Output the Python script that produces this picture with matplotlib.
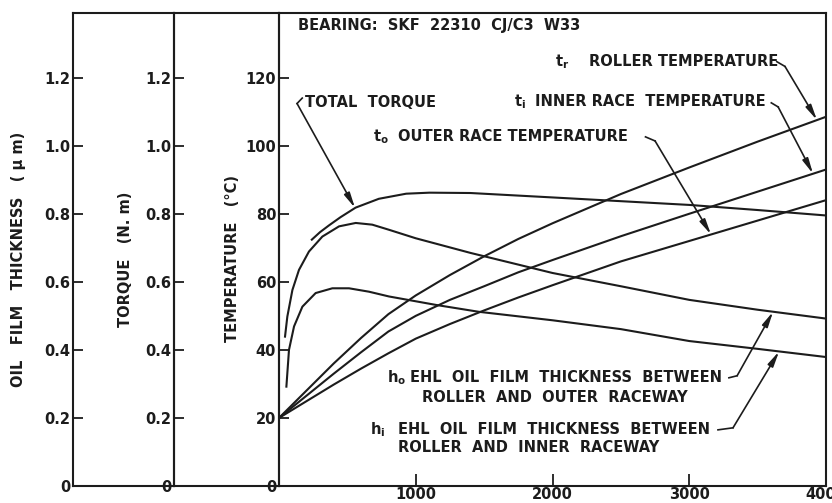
import numpy as np
import matplotlib
matplotlib.use('Agg')
import matplotlib.pyplot as plt
from matplotlib import font_manager

# shaft speed values (rpm) and the measured/calculated curves
speed_temp = [0, 200, 400, 600, 800, 1000, 1250, 1500, 1750, 2000, 2500, 3000, 3500, 4000]
roller_temp = [20, 28, 36, 43.5, 50.5, 56, 62, 67.5, 72.6, 77.2, 85.8, 93.6, 101.2, 108.5]
inner_temp = [20, 26.5, 33, 39.3, 45.4, 50, 54.7, 58.7, 62.8, 66.4, 73.4, 80, 86.5, 93]
outer_temp = [20, 24.9, 29.8, 34.5, 39, 43.3, 47.6, 51.6, 55.4, 59, 66, 72, 78, 84]

speed_torque = [240, 300, 366, 450, 560, 730, 930, 1100, 1400, 2000, 2500, 3000, 3500, 4000]
total_torque = [0.724, 0.746, 0.766, 0.790, 0.818, 0.844, 0.859, 0.862, 0.861,
                0.848, 0.837, 0.826, 0.811, 0.795]

speed_ho = [44, 61, 98, 146, 219, 317, 439, 561, 682, 804, 1000, 1400, 2000,
            2500, 3000, 3500, 4000]
film_outer = [0.439, 0.498, 0.576, 0.635, 0.689, 0.733, 0.763, 0.773, 0.768,
              0.753, 0.728, 0.685, 0.626, 0.587, 0.547, 0.518, 0.492]

speed_hi = [54, 73, 110, 171, 268, 390, 512, 658, 804, 1150, 1460, 2000, 2500,
            3000, 3500, 4000]
film_inner = [0.292, 0.400, 0.469, 0.527, 0.567, 0.581, 0.581, 0.571, 0.557,
              0.532, 0.512, 0.487, 0.461, 0.426, 0.403, 0.379]

thickness_ticks = [0, 0.2, 0.4, 0.6, 0.8, 1.0, 1.2]
thickness_labels = ['0', '0.2', '0.4', '0.6', '0.8', '1.0', '1.2']
temp_ticks = [0, 20, 40, 60, 80, 100, 120]
speed_ticks = [1000, 2000, 3000, 4000]

# pick a narrow bold face if one is around
available = {f.name for f in font_manager.fontManager.ttflist}
family = 'DejaVu Sans'
for name in ['Liberation Sans Narrow', 'DejaVu Sans Condensed']:
    if name in available:
        family = name
        break
plt.rcParams['font.family'] = [family, 'DejaVu Sans']
plt.rcParams['font.weight'] = 'bold'
plt.rcParams['axes.labelweight'] = 'bold'
plt.rcParams['mathtext.fontset'] = 'dejavusans'

INK = '#1c1c1c'
LW = 1.5
FS = 10.5

fig = plt.figure(figsize=(8.32, 5.03), dpi=100)
bottom, height = 17 / 503, 473 / 503
ax = fig.add_axes([279 / 832, bottom, 547 / 832, height])
ax_q = fig.add_axes([174 / 832, bottom, 105 / 832, height])
ax_h = fig.add_axes([73 / 832, bottom, 101 / 832, height])

for a in (ax, ax_q, ax_h):
    a.patch.set_visible(False)
    for sp in a.spines.values():
        sp.set_linewidth(LW)
        sp.set_color(INK)
    a.tick_params(axis='y', direction='in', length=7, width=1.3, colors=INK,
                  labelsize=FS, pad=2)

# the two scale-only boxes on the left
for a, label, xpos in ((ax_q, 'TORQUE   (N. m)', -0.39),
                       (ax_h, 'OIL   FILM   THICKNESS   ( μ m)', -0.465)):
    a.set_xticks([])
    a.set_ylim(0, 1.39)
    a.set_yticks(thickness_ticks, labels=thickness_labels)
    a.set_ylabel(label, fontsize=FS, color=INK)
    a.yaxis.set_label_coords(xpos, 0.48)

ax.set_xlim(0, 4000)
ax.set_ylim(0, 139)
ax.set_yticks(temp_ticks)
ax.set_xticks(speed_ticks)
ax.tick_params(axis='x', direction='in', length=9, width=1.3, colors=INK,
               labelsize=FS, pad=1)
ax.set_ylabel('TEMPERATURE   (°C)', fontsize=FS, color=INK)
ax.yaxis.set_label_coords(-0.071, 0.48)

# all curves share one vertical scale: 100 °C = 1 N.m = 1 um
ax.plot(speed_temp, roller_temp, color=INK, lw=LW)
ax.plot(speed_temp, inner_temp, color=INK, lw=LW)
ax.plot(speed_temp, outer_temp, color=INK, lw=LW)
ax.plot(speed_torque, np.array(total_torque) * 100, color=INK, lw=LW)
ax.plot(speed_ho, np.array(film_outer) * 100, color=INK, lw=LW)
ax.plot(speed_hi, np.array(film_inner) * 100, color=INK, lw=LW)

ax.text(139, 135.4, 'BEARING:  SKF  22310  CJ/C3  W33', fontsize=FS,
        color=INK, va='center', ha='left')


def leader(start, elbow, tip_x, xs, ys, scale=1.0):
    """short dash from the label, then an arrow onto the curve"""
    tip = (tip_x, np.interp(tip_x, xs, np.array(ys) * scale))
    ax.plot([start[0], elbow[0]], [start[1], elbow[1]], color=INK, lw=1.2)
    ax.annotate('', xy=tip, xytext=elbow,
                arrowprops=dict(arrowstyle='-|>,head_length=0.9,head_width=0.18',
                                color=INK, lw=1.2, shrinkA=0, shrinkB=0))


# roller temperature
ax.text(2018, 124.7, r'$\mathbf{t_r}$', fontsize=FS, color=INK, va='center')
ax.text(2270, 124.7, 'ROLLER TEMPERATURE', fontsize=FS, color=INK, va='center')
leader((3640, 124.7), (3700, 123.3), 3934, speed_temp, roller_temp)

# inner race temperature
ax.text(1720, 112.9, r'$\mathbf{t_i}$', fontsize=FS, color=INK, va='center')
ax.text(1870, 112.9, 'INNER RACE  TEMPERATURE', fontsize=FS, color=INK,
        va='center')
leader((3600, 112.6), (3650, 111.4), 3905, speed_temp, inner_temp)

# outer race temperature
ax.text(687, 102.6, r'$\mathbf{t_o}$', fontsize=FS, color=INK, va='center')
ax.text(870, 102.6, 'OUTER RACE TEMPERATURE', fontsize=FS, color=INK,
        va='center')
leader((2680, 102.6), (2750, 101.4), 3159, speed_temp, outer_temp)

# total torque
ax.text(190, 112.6, 'TOTAL  TORQUE', fontsize=FS, color=INK, va='center')
leader((170, 114.0), (132, 112.4), 556, speed_torque, total_torque, 100)

# film thickness, outer raceway
ax.text(790, 31.8, r'$\mathbf{h_o}$', fontsize=FS, color=INK, va='center')
ax.text(960, 31.8, 'EHL  OIL  FILM  THICKNESS  BETWEEN', fontsize=FS,
        color=INK, va='center')
ax.text(1046, 25.9, 'ROLLER  AND  OUTER  RACEWAY', fontsize=FS, color=INK,
        va='center')
leader((3290, 31.8), (3350, 32.4), 3613, speed_ho, film_outer, 100)

# film thickness, inner raceway
ax.text(665, 16.5, r'$\mathbf{h_i}$', fontsize=FS, color=INK, va='center')
ax.text(870, 16.5, 'EHL  OIL  FILM  THICKNESS  BETWEEN', fontsize=FS,
        color=INK, va='center')
ax.text(870, 11.2, 'ROLLER  AND  INNER  RACEWAY', fontsize=FS, color=INK,
        va='center')
leader((3210, 16.5), (3320, 17.1), 3657, speed_hi, film_inner, 100)

fig.savefig('out.png', dpi=100, facecolor='white')
